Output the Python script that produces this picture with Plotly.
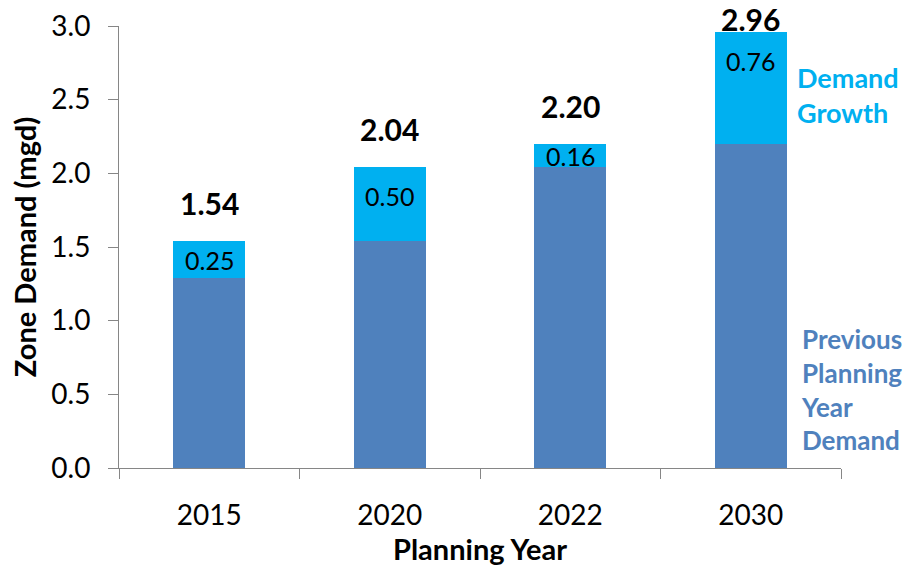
import plotly.graph_objects as go

# Zone demand by planning year (mgd)
years = ["2015", "2020", "2022", "2030"]
previous_demand = [1.29, 1.54, 2.04, 2.20]
demand_growth = [0.25, 0.50, 0.16, 0.76]
totals = [1.54, 2.04, 2.20, 2.96]

BLUE = "#4F81BD"
CYAN = "#00B0F0"
FONT = "Lato, 'Open Sans', Arial, sans-serif"

Y_MAX = 3.0
PLOT_TOP, PLOT_BOTTOM = 26, 468
px_per_unit = (PLOT_BOTTOM - PLOT_TOP) / Y_MAX

fig = go.Figure()
fig.add_trace(go.Bar(
    x=years, y=previous_demand, name="Previous Planning Year Demand",
    marker=dict(color=BLUE, line=dict(width=0)),
))
fig.add_trace(go.Bar(
    x=years, y=demand_growth, name="Demand Growth",
    marker=dict(color=CYAN, line=dict(width=0)),
))

# totals above each stack, lifted less when close to the top of the figure;
# annotations use the category index on the x axis
for i, tot in enumerate(totals):
    top_px = PLOT_TOP + (Y_MAX - tot) * px_per_unit
    shift = min(38, top_px - 19)
    fig.add_annotation(x=i, y=tot, yshift=shift, text=f"<b>{tot:.2f}</b>", showarrow=False,
                       yanchor="middle", font=dict(family=FONT, size=30, color="#000000"))

# growth values inside the cyan segments
for i, (base, g) in enumerate(zip(previous_demand, demand_growth)):
    y_lab = max(base + g / 2, base + g - 29 / px_per_unit)
    fig.add_annotation(x=i, y=y_lab, text=f"{g:.2f}", showarrow=False,
                       yanchor="middle", font=dict(family=FONT, size=25, color="#000000"))

# series labels beside the last bar
fig.add_annotation(xref="paper", x=(795 - 119) / 722, y=(PLOT_BOTTOM - 95) / px_per_unit,
                   text="<b>Demand<br>Growth</b>", showarrow=False, xanchor="left",
                   align="left", yanchor="middle",
                   font=dict(family=FONT, size=27, color=CYAN))
fig.add_annotation(xref="paper", x=(799 - 119) / 722, y=(PLOT_BOTTOM - 389) / px_per_unit,
                   text="<b>Previous<br>Planning<br>Year<br>Demand</b>", showarrow=False,
                   xanchor="left", align="left", yanchor="middle",
                   font=dict(family=FONT, size=26, color=BLUE))

fig.update_layout(
    width=907, height=567,
    margin=dict(l=119, r=66, t=PLOT_TOP, b=567 - PLOT_BOTTOM, autoexpand=False),
    barmode="stack", bargap=0.6,
    showlegend=False,
    plot_bgcolor="white", paper_bgcolor="white",
    font=dict(family=FONT, size=28, color="#000000"),
)
fig.update_xaxes(
    type="category", range=[-0.5, len(years) - 0.5], tickangle=0, automargin=False,
    showline=True, linecolor="#868686", linewidth=1,
    ticks="outside", tickson="boundaries", ticklen=10, tickcolor="#868686",
    showgrid=False, ticklabelstandoff=22,
    title=dict(text="<b>Planning Year</b>", font=dict(family=FONT, size=29), standoff=8),
)
fig.update_yaxes(
    range=[0, Y_MAX], dtick=0.5, tickformat=".1f", automargin=False,
    showline=True, linecolor="#868686", linewidth=1,
    ticks="outside", ticklen=10, tickcolor="#868686",
    showgrid=False, zeroline=False, ticklabelstandoff=12,
    title=dict(text="<b>Zone Demand (mgd)</b>", font=dict(family=FONT, size=29), standoff=6),
)

fig.write_html("out.html")
